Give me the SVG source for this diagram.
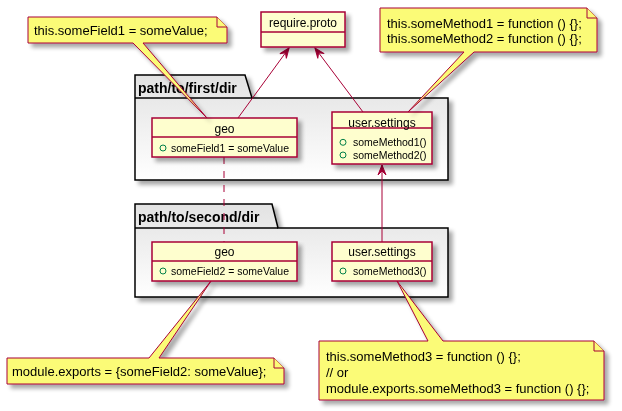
<svg xmlns="http://www.w3.org/2000/svg" width="622" height="411" viewBox="0 0 622 411">
<style>
.pkg{fill:url(#pg);stroke:#000;stroke-width:1.5}
.pt{font-family:"Liberation Sans",Arial,sans-serif;font-size:14px;font-weight:bold;fill:#000}
.cls{fill:#FEFECE;stroke:#A80036;stroke-width:1.5}
.div{stroke:#A80036;stroke-width:1.5}
.cn{font-family:"Liberation Sans",Arial,sans-serif;font-size:12px;fill:#000;text-anchor:middle}
.at{font-family:"Liberation Sans",Arial,sans-serif;font-size:10.5px;fill:#000}
.vis{fill:none;stroke:#038048;stroke-width:1}
.note{fill:#FBFB77;stroke:#A80036;stroke-width:1}
.nt{font-family:"Liberation Sans",Arial,sans-serif;font-size:13px;fill:#000}
.ln{stroke:#A80036;stroke-width:1;fill:none}
</style>
<defs>
<linearGradient id="pg" x1="0" y1="0" x2="0" y2="1">
<stop offset="0" stop-color="#E2E2E2"/>
<stop offset="1" stop-color="#FFFFFF"/>
</linearGradient>
<filter id="sh" x="-10%" y="-10%" width="130%" height="140%">
<feGaussianBlur in="SourceAlpha" stdDeviation="2"/>
<feOffset dx="4" dy="4" result="b"/>
<feComponentTransfer><feFuncA type="linear" slope="0.35"/></feComponentTransfer>
<feMerge><feMergeNode/><feMergeNode in="SourceGraphic"/></feMerge>
</filter>
<marker id="arr" viewBox="-11 -5 12 10" refX="0" refY="0" markerWidth="12" markerHeight="10" orient="auto" markerUnits="userSpaceOnUse">
<path d="M0,0 L-10,-4 L-6,0 L-10,4 Z" fill="#A80036" stroke="#A80036" stroke-width="1"/>
</marker>
</defs>
<rect width="622" height="411" fill="#FFFFFF"/>

<g id="pkg1" filter="url(#sh)">
<path class="pkg" d="M135,75 L245,75 L252,98 L448,98 L448,180 L135,180 Z"/>
<line x1="135" y1="98" x2="252" y2="98" stroke="#000" stroke-width="1.5"/>
<text class="pt" x="138" y="93">path/to/first/dir</text>
</g>
<g id="pkg2" filter="url(#sh)">
<path class="pkg" d="M135,204 L272,204 L278,228 L448,228 L448,297 L135,297 Z"/>
<line x1="135" y1="228" x2="278" y2="228" stroke="#000" stroke-width="1.5"/>
<text class="pt" x="138" y="222">path/to/second/dir</text>
</g>

<g id="connectors">
<line class="ln" x1="238" y1="118" x2="289" y2="48" marker-end="url(#arr)"/>
<line class="ln" x1="363" y1="112" x2="315" y2="48" marker-end="url(#arr)"/>
<line class="ln" x1="382" y1="242" x2="382" y2="165" marker-end="url(#arr)"/>
<line class="ln" x1="224" y1="157" x2="224" y2="242" stroke-dasharray="7,7"/>
</g>

<g id="require_proto" filter="url(#sh)">
<rect class="cls" x="261" y="12" width="84" height="35"/>
<line class="div" x1="261" y1="32" x2="345" y2="32"/>
<text class="cn" x="303" y="27">require.proto</text>
</g>

<g id="geo1" filter="url(#sh)">
<rect class="cls" x="152" y="118" width="145" height="39"/>
<line class="div" x1="152" y1="137" x2="297" y2="137"/>
<text class="cn" x="224.5" y="132.5">geo</text>
<circle class="vis" cx="163" cy="148" r="3"/>
<text class="at" x="171" y="151.5">someField1 = someValue</text>
</g>

<g id="user_settings1" filter="url(#sh)">
<rect class="cls" x="332" y="112" width="100" height="52"/>
<line class="div" x1="332" y1="128" x2="432" y2="128"/>
<text class="cn" x="382" y="126.5">user.settings</text>
<circle class="vis" cx="343" cy="142.3" r="3"/>
<text class="at" x="353" y="146">someMethod1()</text>
<circle class="vis" cx="343" cy="155" r="3"/>
<text class="at" x="353" y="158.7">someMethod2()</text>
</g>

<g id="geo2" filter="url(#sh)">
<rect class="cls" x="152" y="242" width="145" height="39"/>
<line class="div" x1="152" y1="261" x2="297" y2="261"/>
<text class="cn" x="224.5" y="255.5">geo</text>
<circle class="vis" cx="163" cy="271" r="3"/>
<text class="at" x="171" y="274.5">someField2 = someValue</text>
</g>

<g id="user_settings2" filter="url(#sh)">
<rect class="cls" x="332" y="242" width="100" height="39"/>
<line class="div" x1="332" y1="261" x2="432" y2="261"/>
<text class="cn" x="382" y="255.5">user.settings</text>
<circle class="vis" cx="343" cy="271" r="3"/>
<text class="at" x="353" y="274.5">someMethod3()</text>
</g>

<g id="note1" filter="url(#sh)">
<path class="note" d="M28,17 L217,17 L227,27 L227,43 L143,43 L207,118 L133,43 L28,43 Z"/>
<path class="note" d="M217,17 L217,27 L227,27"/>
<text class="nt" x="34" y="35">this.someField1 = someValue;</text>
</g>

<g id="note2" filter="url(#sh)">
<path class="note" d="M380,8 L587,8 L597,18 L597,52 L474,52 L408,112 L464,52 L380,52 Z"/>
<path class="note" d="M587,8 L587,18 L597,18"/>
<text class="nt" x="387" y="27.5">this.someMethod1 = function () {};</text>
<text class="nt" x="387" y="43">this.someMethod2 = function () {};</text>
</g>

<g id="note3" filter="url(#sh)">
<path class="note" d="M7,358 L149,358 L211,281 L159,358 L274,358 L284,368 L284,384 L7,384 Z"/>
<path class="note" d="M274,358 L274,368 L284,368"/>
<text class="nt" x="12" y="376">module.exports = {someField2: someValue};</text>
</g>

<g id="note4" filter="url(#sh)">
<path class="note" d="M319,341 L428,341 L397,281 L443,341 L594,341 L604,351 L604,400 L319,400 Z"/>
<path class="note" d="M594,341 L594,351 L604,351"/>
<text class="nt" x="326" y="360.5">this.someMethod3 = function () {};</text>
<text class="nt" x="326" y="376.5">// or</text>
<text class="nt" x="326" y="392.5">module.exports.someMethod3 = function () {};</text>
</g>
</svg>
